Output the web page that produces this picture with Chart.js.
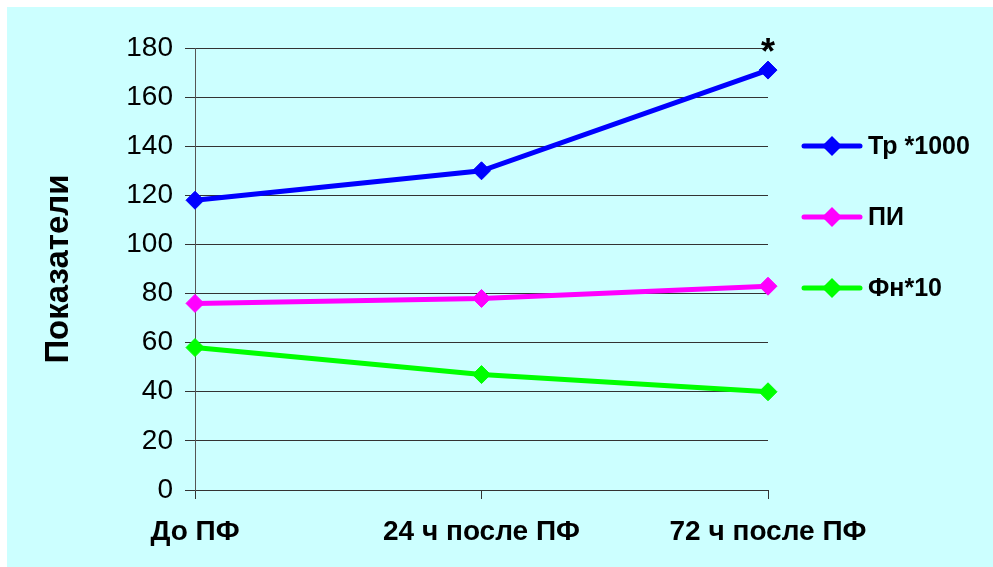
<!DOCTYPE html>
<html>
<head>
<meta charset="utf-8">
<script src="https://cdn.jsdelivr.net/npm/chart.js@4/dist/chart.umd.min.js"></script>
<style>
  html, body { margin: 0; padding: 0; background: #fff; }
  #wrap { position: absolute; left: 7px; top: 7px; width: 986px; height: 560px; background: #ccffff; }
</style>
</head>
<body>
<div id="wrap"><canvas id="chart" width="986" height="560"></canvas></div>
<script>
// Показатели до и после ПФ
const categories = ["До ПФ", "24 ч после ПФ", "72 ч после ПФ"];
const trValues = [118, 130, 171];
const piValues = [76, 78, 83];
const fnValues = [58, 47, 40];
const seriesNames = ["Тр *1000", "ПИ", "Фн*10"];
const seriesColors = ["#0000ff", "#ff00ff", "#00ff00"];
const yTicks = [0, 20, 40, 60, 80, 100, 120, 140, 160, 180];

const FONT = "Arial, 'Liberation Sans', sans-serif";

const makeSet = (i, values) => ({
  label: seriesNames[i],
  data: values,
  borderColor: seriesColors[i],
  backgroundColor: seriesColors[i],
  borderWidth: 5,
  pointStyle: "rectRot",
  pointRadius: 9,
  pointBorderWidth: 1,
  tension: 0,
});

// legend on the right, one entry per series
const sideLegend = {
  id: "sideLegend",
  afterDraw(chart) {
    const ctx = chart.ctx;
    const rows = [139, 210, 281];
    ctx.save();
    chart.data.datasets.forEach((ds, i) => {
      const y = rows[i];
      ctx.strokeStyle = ds.borderColor;
      ctx.lineWidth = 5;
      ctx.lineCap = "round";
      ctx.beginPath();
      ctx.moveTo(797, y);
      ctx.lineTo(853, y);
      ctx.stroke();
      ctx.fillStyle = ds.borderColor;
      ctx.beginPath();
      ctx.moveTo(825, y - 10);
      ctx.lineTo(835, y);
      ctx.lineTo(825, y + 10);
      ctx.lineTo(815, y);
      ctx.closePath();
      ctx.fill();
      ctx.fillStyle = "#000";
      ctx.font = "bold 25px " + FONT;
      ctx.textBaseline = "middle";
      ctx.fillText(ds.label, 861, y + 1);
    });
    ctx.restore();
  },
};

// significance mark over the last Тр point
const starMark = {
  id: "starMark",
  afterDatasetsDraw(chart) {
    const pt = chart.getDatasetMeta(0).data[trValues.length - 1];
    const ctx = chart.ctx;
    ctx.save();
    ctx.fillStyle = "#000";
    ctx.font = "bold 36px " + FONT;
    ctx.textAlign = "center";
    ctx.textBaseline = "middle";
    ctx.fillText("*", pt.x, pt.y - 16);
    ctx.restore();
  },
};

new Chart(document.getElementById("chart"), {
  type: "line",
  data: {
    labels: categories,
    datasets: [makeSet(0, trValues), makeSet(1, piValues), makeSet(2, fnValues)],
  },
  options: {
    responsive: false,
    animation: false,
    layout: { padding: { top: 41, right: 225, bottom: 0, left: 0 } },
    plugins: { legend: { display: false }, tooltip: { enabled: false } },
    scales: {
      x: {
        offset: false,
        grid: { drawOnChartArea: false, color: "#333", tickLength: 9 },
        border: { color: "#333" },
        ticks: {
          color: "#000",
          padding: 16,
          maxRotation: 0,
          autoSkip: false,
          font: { family: FONT, size: 28, weight: "bold" },
        },
        afterFit(scale) { scale.height = 77; },
      },
      y: {
        min: 0,
        max: 180,
        afterBuildTicks(scale) { scale.ticks = yTicks.map(v => ({ value: v })); },
        grid: { color: "#333", tickLength: 10 },
        border: { color: "#555" },
        ticks: {
          color: "#000",
          padding: 12,
          font: { family: FONT, size: 28 },
        },
        title: {
          display: true,
          text: "Показатели",
          color: "#000",
          padding: { top: 32, bottom: 0 },
          font: { family: FONT, size: 33, weight: "bold" },
        },
        afterFit(scale) { scale.width = 188; },
      },
    },
  },
  plugins: [sideLegend, starMark],
});
</script>
</body>
</html>
